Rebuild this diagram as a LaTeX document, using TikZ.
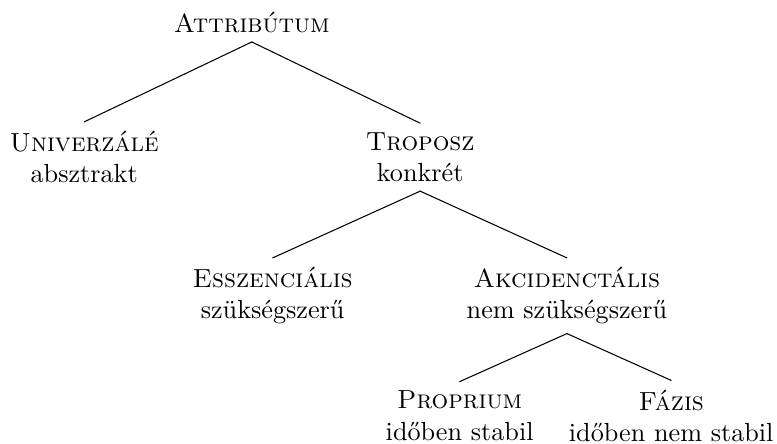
\documentclass[tikz,border=0pt]{standalone}
\begin{document}
\begin{tikzpicture}[
  term/.style={align=center, font=\normalsize},
  branch/.style={black, line cap=round}
]
\useasboundingbox (0,0) rectangle (10.43,-5.96);

% root
\node[term] (attr) at (3.38,-0.30) {\textsc{Attribútum}};

% first level
\node[term] (univ) at (1.13,-2.11) {\textsc{Univerzálé}\\absztrakt};
\node[term] (trop) at (5.64,-2.11) {\textsc{Troposz}\\konkrét};

% second level
\node[term] (essz) at (3.66,-3.97) {\textsc{Esszenciális}\\szükségszerű};
\node[term] (akc) at (7.61,-3.97) {\textsc{Akcidenctális}\\nem szükségszerű};

% third level
\node[term] (prop) at (6.17,-5.58) {\textsc{Proprium}\\időben stabil};
\node[term] (fazis) at (9.01,-5.58) {\textsc{Fázis}\\időben nem stabil};

% branches
\draw[branch] (attr.south) -- (univ.north);
\draw[branch] (attr.south) -- (trop.north);
\draw[branch] (trop.south) -- (essz.north);
\draw[branch] (trop.south) -- (akc.north);
\draw[branch] (akc.south) -- (prop.north);
\draw[branch] (akc.south) -- (fazis.north);

\end{tikzpicture}
\end{document}
